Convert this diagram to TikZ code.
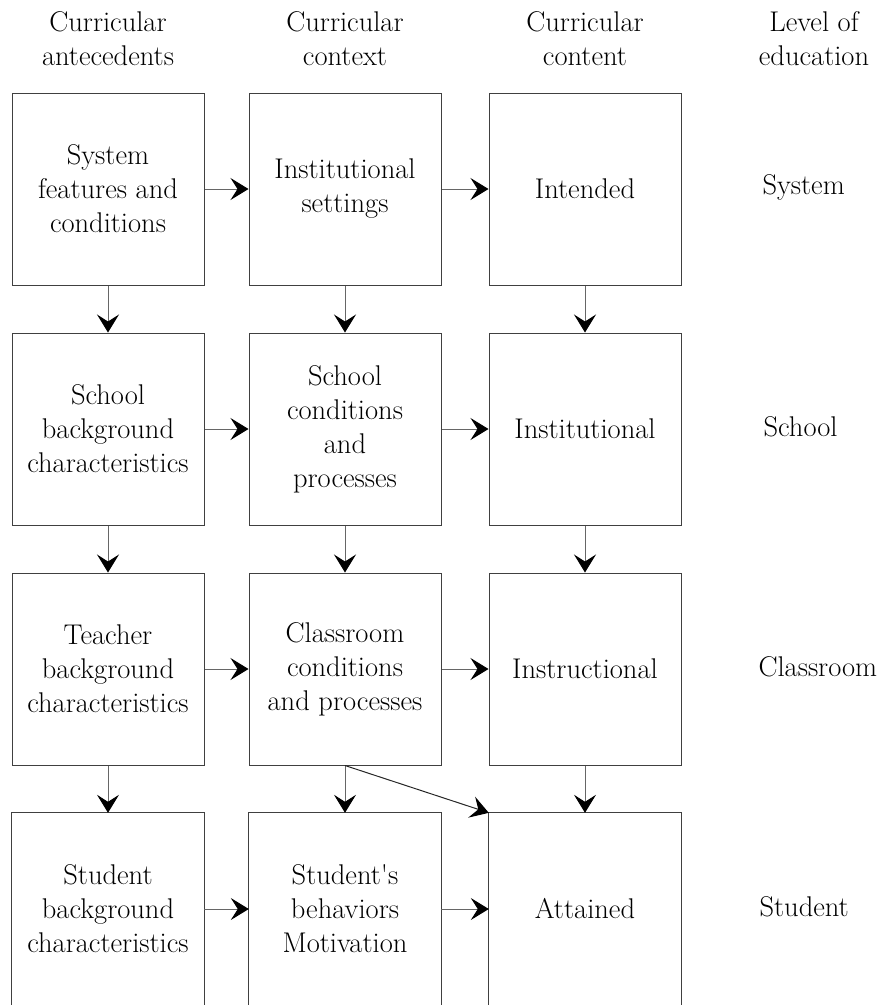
\documentclass[tikz,border=0pt]{standalone}
\usetikzlibrary{arrows.meta}
\begin{document}
\begin{tikzpicture}[x=1pt,y=-1pt,
  txt/.style={font=\fontsize{28.5}{34}\selectfont},
  box/.style={txt, draw=black!75, line width=1pt, minimum width=192pt,
    minimum height=192pt, align=center, inner sep=0pt},
  openbox/.style={txt, minimum width=192pt, minimum height=192pt,
    align=center, inner sep=0pt},
  head/.style={txt, align=center},
  lvl/.style={txt, anchor=west},
  tip/.tip={Stealth[length=18pt,width=22pt,inset=7pt,color=black]},
  link/.style={draw=black!60, line width=1pt, -tip}
]
\useasboundingbox (0,0) rectangle (888,1005);

% column headings
\node[head] (h1) at (108,39) {Curricular\\antecedents};
\node[head] (h2) at (345,39) {Curricular\\context};
\node[head] (h3) at (585,39) {Curricular\\content};
\node[head] (h4) at (814,39) {Level of\\education};

% system level
\node[box] (a1) at (108,189) {System\\features and\\conditions};
\node[box] (b1) at (345,189) {Institutional\\settings};
\node[box] (c1) at (585,189) {Intended};
\node[lvl] (l1) at (759,187) {System};

% school level
\node[box] (a2) at (108,429) {School\\background\\characteristics};
\node[box] (b2) at (345,429) {School\\conditions\\and\\processes};
\node[box] (c2) at (585,429) {Institutional};
\node[lvl] (l2) at (760,427) {School};

% classroom level
\node[box] (a3) at (108,669) {Teacher\\background\\characteristics};
\node[box] (b3) at (345,669) {Classroom\\conditions\\and processes};
\node[box] (c3) at (585,669) {Instructional};
\node[lvl] (l3) at (755,667) {Classroom};

% student level (boxes run past the lower edge)
\node[openbox] (a4) at (108,909) {Student\\background\\characteristics};
\node[openbox] (b4) at (345,909) {Student\textquotesingle s\\behaviors\\Motivation};
\node[openbox] (c4) at (585,909) {Attained};
\node[lvl] (l4) at (756,907) {Student};
\foreach \n in {a4,b4,c4}
  \draw[black!75, line width=1pt] ([yshift=-4pt]\n.south west) |- (\n.north east) -- ([yshift=-4pt]\n.south east);

% horizontal links
\foreach \r in {1,2,3,4}{
  \draw[link] (a\r.east) -- (b\r.west);
  \draw[link] (b\r.east) -- (c\r.west);
}
% vertical links
\foreach \c in {a,b,c}{
  \draw[link] (\c1.south) -- (\c2.north);
  \draw[link] (\c2.south) -- (\c3.north);
  \draw[link] (\c3.south) -- (\c4.north);
}
% classroom processes feed attainment
\draw[link, draw=black!85] (b3.south) -- (c4.north west);
\end{tikzpicture}
\end{document}
